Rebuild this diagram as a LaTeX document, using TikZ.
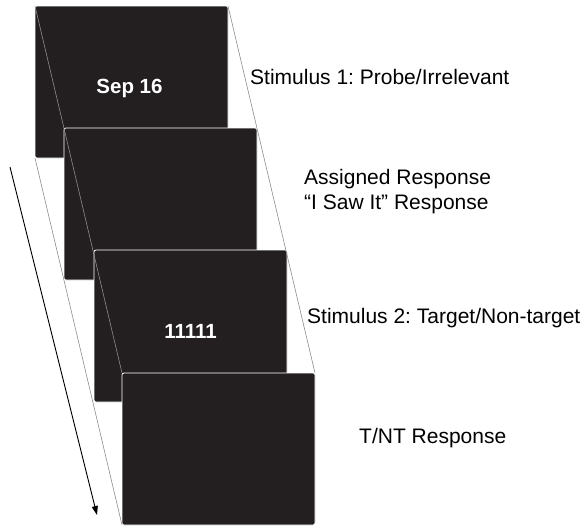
\documentclass[tikz,border=0pt]{standalone}
\usepackage{fontspec}
\setmainfont{Liberation Sans}
\frenchspacing
\usetikzlibrary{positioning,arrows.meta}
\definecolor{scrfill}{HTML}{231F20}
\definecolor{guidegray}{HTML}{8C8C8C}

\begin{document}
\begin{tikzpicture}[
  x=1pt, y=-1pt,
  screen/.style={fill=scrfill, draw=white, line width=0.8pt, rounded corners=2pt, anchor=north west, minimum width=193pt, minimum height=152pt, inner sep=0pt, outer sep=0pt},
  scrtext/.style={text=white, inner sep=0pt, font=\fontsize{20.5}{24}\selectfont\bfseries},
  lbl/.style={anchor=west, align=left, inner sep=0pt, font=\fontsize{21}{25}\selectfont},
  guide/.style={draw=guidegray, line width=0.6pt},
  arr/.style={-{Triangle[length=9pt, width=6pt]}, line width=0.9pt}
]
\useasboundingbox (0,0) rectangle (585,525);
% the four screens, stacked
\node[screen] (s1) at (35,6) {};
\node[screen] (s2) at (64,128) {};
\node[screen] (s3) at (94,250) {};
\node[screen] (s4) at (122,373) {};
\node[scrtext] (d1) at ([xshift=-2pt, yshift=-6pt]s1.center) {Sep 16};
\node[scrtext] (d3) at ([yshift=-5pt]s3.center) {11111};
% stack edges
\draw[guide] (s1.north west) -- (s4.north west);
\draw[guide] (s1.south west) -- (s4.south west);
\draw[guide] (s1.north east) -- (s4.north east);
% time arrow
\coordinate (t0) at (10,167);
\coordinate (t1) at (97,515);
\draw[arr] (t0) -- (t1);
% labels
\node[lbl] (l1) at (250,77) {Stimulus 1: Probe/Irrelevant};
\node[lbl] (l2) at (304,192) {Assigned Response\\“I Saw It” Response};
\node[lbl] (l3) at (307,318) {Stimulus 2: Target/Non-target};
\node[lbl] (l4) at (359,438) {T/NT Response};
\end{tikzpicture}
\end{document}
